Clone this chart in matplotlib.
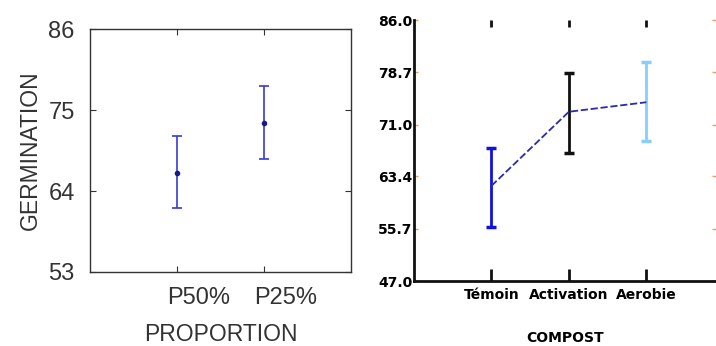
import matplotlib.pyplot as plt
import matplotlib.transforms as mtransforms
import numpy as np

# left panel: germination by proportion
prop_names = ["P50%", "P25%"]
prop_mean = [66.5, 73.2]
prop_low = [61.7, 68.3]
prop_high = [71.5, 78.2]
germ_ticks = [53, 64, 75, 86]

# right panel: compost
comp_names = ["Témoin", "Activation", "Aerobie"]
comp_mean = [62.0, 72.9, 74.3]
comp_low = [55.9, 66.8, 68.6]
comp_high = [67.6, 78.6, 80.2]
comp_colors = ["#1010e0", "#111111", "#87cefa"]
comp_cap_colors = ["#1010e0", "#111111", "#222266"]
comp_ticks = [48.0, 55.7, 63.4, 71.0, 78.7, 86.4]

W, H = 716, 346
fig = plt.figure(figsize=(W / 100, H / 100), dpi=100)
plt.rcParams['font.family'] = ['Liberation Sans', 'DejaVu Sans']

# ---- left
ax1 = fig.add_axes([90 / W, 1 - 272 / H, 261 / W, 243 / H])
x1 = np.arange(1, len(prop_names) + 1)
m = np.array(prop_mean)
err = [m - np.array(prop_low), np.array(prop_high) - m]
ax1.errorbar(x1, m, yerr=err, fmt='o', ms=3, color='#1a1a80', ecolor='#3b3bd0',
             elinewidth=1.2, capsize=3.5, capthick=1.2)
ax1.set_xlim(0, 3)
ax1.set_ylim(53, 86)
ax1.set_yticks(germ_ticks)
ax1.set_xticks(x1)
ax1.set_xticklabels(prop_names)
for s in ax1.spines.values():
    s.set_color('#333333')
    s.set_linewidth(1.0)
ax1.tick_params(direction='in', length=4, width=0.8, color='#333333',
                top=True, right=True, labelsize=17, labelcolor='#333333')
ax1.tick_params(axis='y', pad=11)
ax1.tick_params(axis='x', pad=11)
# tick labels sit a bit right of their ticks in the original
shift = mtransforms.ScaledTranslation(22 / 100, 0, fig.dpi_scale_trans)
for lab in ax1.get_xticklabels():
    lab.set_transform(lab.get_transform() + shift)
ax1.set_xlabel("PROPORTION", fontsize=16.5, color='#333333', labelpad=10)
ax1.set_ylabel("GERMINATION", fontsize=16.5, color='#333333', labelpad=5)

# ---- right
ax2 = fig.add_axes([414 / W, 1 - 281 / H, 302 / W, 261 / H])
x2 = np.arange(1, len(comp_names) + 1)
ax2.plot(x2, comp_mean, color='#2a2ab0', lw=1.3, ls=(0, (4, 1.5)), zorder=3)
for i in range(len(comp_names)):
    e = [[comp_mean[i] - comp_low[i]], [comp_high[i] - comp_mean[i]]]
    _, caps, _ = ax2.errorbar(x2[i], comp_mean[i], yerr=e, fmt='none',
                              ecolor=comp_colors[i], elinewidth=2,
                              capsize=3.5, capthick=2.5, zorder=2)
    for c in caps:
        c.set_color(comp_cap_colors[i])
ax2.set_xlim(0, 3.9)
ax2.set_ylim(comp_ticks[0], comp_ticks[-1])
ax2.set_yticks(comp_ticks)
ax2.set_yticklabels(["47.0", "55.7", "63.4", "71.0", "78.7", "86.0"])
ax2.set_xticks(x2)
ax2.set_xticklabels(comp_names)
ax2.spines['top'].set_visible(False)
ax2.spines['right'].set_visible(False)
for s in ['left', 'bottom']:
    ax2.spines[s].set_linewidth(2)
    ax2.spines[s].set_color('#111111')
ax2.tick_params(axis='x', direction='in', length=9, width=2, color='#111111',
                top=True, labelsize=10, pad=5)
ax2.tick_params(axis='y', direction='in', length=3, width=1, color='#e8a060',
                right=True, labelsize=10, pad=1)
for lab in ax2.get_xticklabels() + ax2.get_yticklabels():
    lab.set_fontweight('bold')
    lab.set_family('DejaVu Sans')
for t in ax2.xaxis.get_major_ticks():
    t.tick2line.set_markersize(5)
ax2.set_xlabel("COMPOST", fontsize=10, fontweight='bold', family='DejaVu Sans',
               labelpad=21)

fig.savefig("out.png", dpi=100)
